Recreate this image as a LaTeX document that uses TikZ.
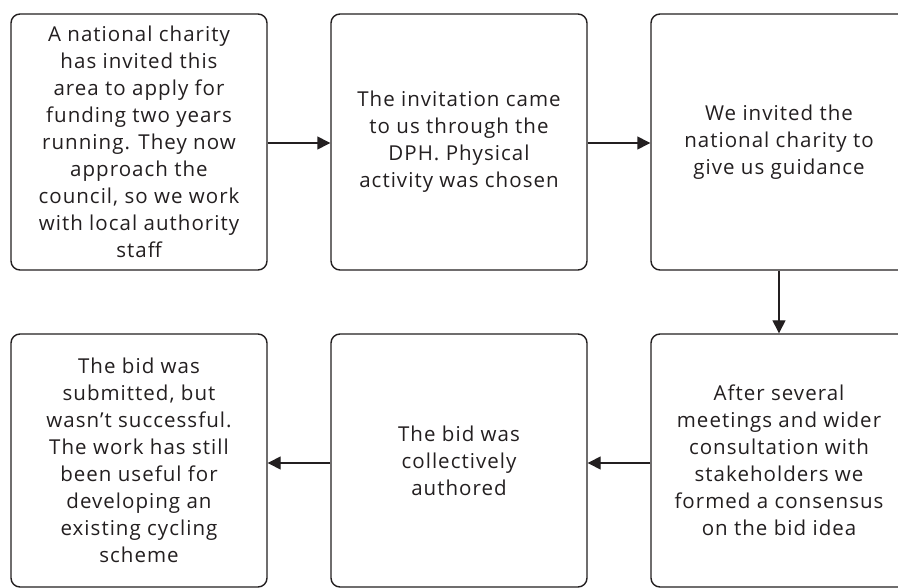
\documentclass[tikz,border=0pt]{standalone}
\usepackage{fontspec}
\setmainfont{Open Sans}
\newfontfamily\boxfont[LetterSpace=5]{Open Sans}
\usetikzlibrary{arrows.meta}
\definecolor{ink}{HTML}{231F20}
\tikzset{
  stepbox/.style={draw=ink, line width=1.4pt, rounded corners=9pt, fill=white,
    minimum width=256pt, align=center, text=ink,
    font=\boxfont\fontsize{20.5}{27}\selectfont, inner sep=0pt},
  flow/.style={draw=ink, line width=1.4pt, -{Triangle[length=13pt,width=13pt]}}
}
\begin{document}
\begin{tikzpicture}[x=1pt,y=-1pt]
  \useasboundingbox (0,0) rectangle (898,588);
  \begin{scope}
  \clip (0,0) rectangle (898,588);
  % top row
  \node[stepbox, minimum height=256pt] (b1) at (139,142)
    {A national charity\\has invited this\\area to apply for\\funding two years\\running. They now\\approach the\\council, so we work\\with local authority\\staff};
  \node[stepbox, minimum height=256pt] (b2) at (459,142)
    {The invitation came\\to us through the\\DPH. Physical\\activity was chosen};
  \node[stepbox, minimum height=256pt] (b3) at (779,142)
    {We invited the\\national charity to\\give us guidance};
  % bottom row
  \node[stepbox, minimum height=253pt] (b6) at (779,460.5)
    {After several\\meetings and wider\\consultation with\\stakeholders we\\formed a consensus\\on the bid idea};
  \node[stepbox, minimum height=253pt] (b5) at (459,460.5)
    {The bid was\\collectively\\authored};
  \node[stepbox, minimum height=253pt] (b4) at (139,460.5)
    {The bid was\\submitted, but\\wasn’t successful.\\The work has still\\been useful for\\developing an\\existing cycling\\scheme};
  % connectors
  \draw[flow] (b1.east |- 0,143) -- (b2.west |- 0,143);
  \draw[flow] (b2.east |- 0,143) -- (b3.west |- 0,143);
  \draw[flow] (b3.south) -- (b6.north);
  \draw[flow] (b6.west |- 0,463) -- (b5.east |- 0,463);
  \draw[flow] (b5.west |- 0,463) -- (b4.east |- 0,463);
  \end{scope}
\end{tikzpicture}
\end{document}
